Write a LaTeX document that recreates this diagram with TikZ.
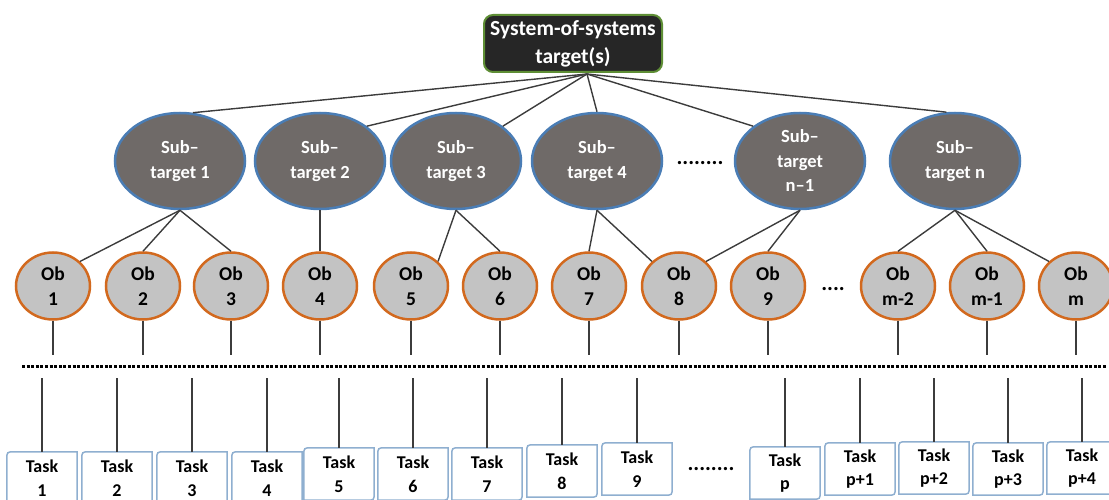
\documentclass[tikz,border=0pt]{standalone}
\usepackage{fontspec}
\setmainfont{Carlito}
\usetikzlibrary{shapes.geometric}
\definecolor{sosfill}{HTML}{262626}
\definecolor{sosedge}{HTML}{5E8E35}
\definecolor{subfill}{HTML}{6F6A68}
\definecolor{subedge}{HTML}{4A7DB5}
\definecolor{obfill}{HTML}{C3C3C3}
\definecolor{obedge}{HTML}{D2691E}
\definecolor{taskedge}{HTML}{8FAFD0}
\definecolor{wire}{HTML}{3C3C3C}
\begin{document}
\begin{tikzpicture}[x=1pt,y=-1pt,
  sosbox/.style={draw=sosedge,fill=sosfill,line width=2pt,rounded corners=9pt,minimum width=178pt,minimum height=57pt,inner sep=0pt,align=center,text=white,font=\fontsize{21.5}{28}\selectfont\bfseries},
  subtarget/.style={ellipse,draw=subedge,fill=subfill,line width=2.5pt,minimum width=130pt,minimum height=96pt,inner sep=0pt,align=center,text=white,font=\fontsize{18.5}{24.5}\selectfont\bfseries},
  obj/.style={ellipse,draw=obedge,fill=obfill,line width=2.5pt,minimum width=74pt,minimum height=67pt,inner sep=0pt,align=center,font=\fontsize{19.5}{25}\selectfont\bfseries},
  taskbox/.style={minimum width=70pt,minimum height=52pt,inner sep=0pt,align=center,font=\fontsize{18}{23.5}\selectfont\bfseries,
    append after command={\pgfextra{\draw[draw=taskedge,line width=1.5pt]
      ([xshift=8pt]\tikzlastnode.north west) -- (\tikzlastnode.north east) -- ([yshift=8pt]\tikzlastnode.south east)
      .. controls (\tikzlastnode.south east) .. ([xshift=-8pt]\tikzlastnode.south east) -- (\tikzlastnode.south west)
      -- ([yshift=-8pt]\tikzlastnode.north west) .. controls (\tikzlastnode.north west) .. cycle;}}},
  wire/.style={draw=wire,line width=1.4pt},
  dotrow/.style={line width=3pt,dash pattern=on 3pt off 1.6pt},
  more/.style={font=\fontsize{22}{22}\selectfont\bfseries}]
\useasboundingbox (0,0) rectangle (1109,500);
\node[sosbox] (sos) at (573,43.5) {System-of-systems\\target(s)};
\coordinate (hub) at (587,74);
\node[subtarget] (s1) at (180,161) {Sub–\\target 1};
\node[subtarget] (s2) at (320,161) {Sub–\\target 2};
\node[subtarget] (s3) at (456,161) {Sub–\\target 3};
\node[subtarget] (s4) at (597,161) {Sub–\\target 4};
\node[more] (sdots) at (700,163) {........};
\node[subtarget] (sn1) at (800,161) {Sub–\\target\\n–1};
\node[subtarget] (sn) at (955,161) {Sub–\\target n};
\draw[wire] (hub) -- (s1.75);
\draw[wire] (hub) -- (s2.north east);
\draw[wire] (hub) -- (s3.north east);
\draw[wire] (hub) -- (s4.north);
\draw[wire] (hub) -- (sn1.north west);
\draw[wire] (hub) -- (sn.100);
\node[obj] (o1) at (53,286) {Ob\\1};
\node[obj] (o2) at (143,286) {Ob\\2};
\node[obj] (o3) at (231,286) {Ob\\3};
\node[obj] (o4) at (320,286) {Ob\\4};
\node[obj] (o5) at (411,286) {Ob\\5};
\node[obj] (o6) at (500,286) {Ob\\6};
\node[obj] (o7) at (589,286) {Ob\\7};
\node[obj] (o8) at (679,286) {Ob\\8};
\node[obj] (o9) at (768,286) {Ob\\9};
\node[more] (odots) at (833,289) {....};
\node[obj] (om2) at (898,286) {Ob\\m-2};
\node[obj] (om1) at (987,286) {Ob\\m-1};
\node[obj] (om) at (1076,286) {Ob\\m};
\draw[wire] (s1.south) -- (o1.north east);
\draw[wire] (s1.south) -- (o2.north);
\draw[wire] (s1.south) -- (o3.north);
\draw[wire] (s2.south) -- (o4.north);
\draw[wire] (s3.south) -- (o5.north east);
\draw[wire] (s3.south) -- (o6.north);
\draw[wire] (s4.south) -- (o7.north);
\draw[wire] (s4.south) -- (o8.north west);
\draw[wire] (sn1.south) -- (o8.north east);
\draw[wire] (sn1.south) -- (o9.north);
\draw[wire] (sn.south) -- (om2.north);
\draw[wire] (sn.south) -- (om1.north);
\draw[wire] (sn.south) -- (om.north west);
\coordinate (obend) at (0,355);
\draw[wire] (o1) -- (o1 |- obend);
\draw[wire] (o2) -- (o2 |- obend);
\draw[wire] (o3) -- (o3 |- obend);
\draw[wire] (o4) -- (o4 |- obend);
\draw[wire] (o5) -- (o5 |- obend);
\draw[wire] (o6) -- (o6 |- obend);
\draw[wire] (o7) -- (o7 |- obend);
\draw[wire] (o8) -- (o8 |- obend);
\draw[wire] (o9) -- (o9 |- obend);
\draw[wire] (om2) -- (om2 |- obend);
\draw[wire] (om1) -- (om1 |- obend);
\draw[wire] (om) -- (om |- obend);
\coordinate (dotl) at (22,366);
\coordinate (dotr) at (1106,366);
\draw[dotrow] (dotl) -- (dotr);
\node[taskbox] (t1) at (42,478) {Task\\1};
\node[taskbox] (t2) at (117,478) {Task\\2};
\node[taskbox] (t3) at (192,478) {Task\\3};
\node[taskbox] (t4) at (267,478) {Task\\4};
\node[taskbox] (t5) at (339,474) {Task\\5};
\node[taskbox] (t6) at (413,474) {Task\\6};
\node[taskbox] (t7) at (487,474) {Task\\7};
\node[taskbox] (t8) at (562,471) {Task\\8};
\node[taskbox] (t9) at (637,469) {Task\\9};
\node[more] (tdots) at (711,469) {........};
\node[taskbox] (tp) at (785,473) {Task\\p};
\node[taskbox] (tp1) at (860,469) {Task\\p+1};
\node[taskbox] (tp2) at (934,468) {Task\\p+2};
\node[taskbox] (tp3) at (1008,469) {Task\\p+3};
\node[taskbox] (tp4) at (1082,468) {Task\\p+4};
\coordinate (taskend) at (0,378);
\draw[wire] (t1) -- (t1 |- taskend);
\draw[wire] (t2) -- (t2 |- taskend);
\draw[wire] (t3) -- (t3 |- taskend);
\draw[wire] (t4) -- (t4 |- taskend);
\draw[wire] (t5) -- (t5 |- taskend);
\draw[wire] (t6) -- (t6 |- taskend);
\draw[wire] (t7) -- (t7 |- taskend);
\draw[wire] (t8) -- (t8 |- taskend);
\draw[wire] (t9) -- (t9 |- taskend);
\draw[wire] (tp) -- (tp |- taskend);
\draw[wire] (tp1) -- (tp1 |- taskend);
\draw[wire] (tp2) -- (tp2 |- taskend);
\draw[wire] (tp3) -- (tp3 |- taskend);
\draw[wire] (tp4) -- (tp4 |- taskend);
\end{tikzpicture}
\end{document}
